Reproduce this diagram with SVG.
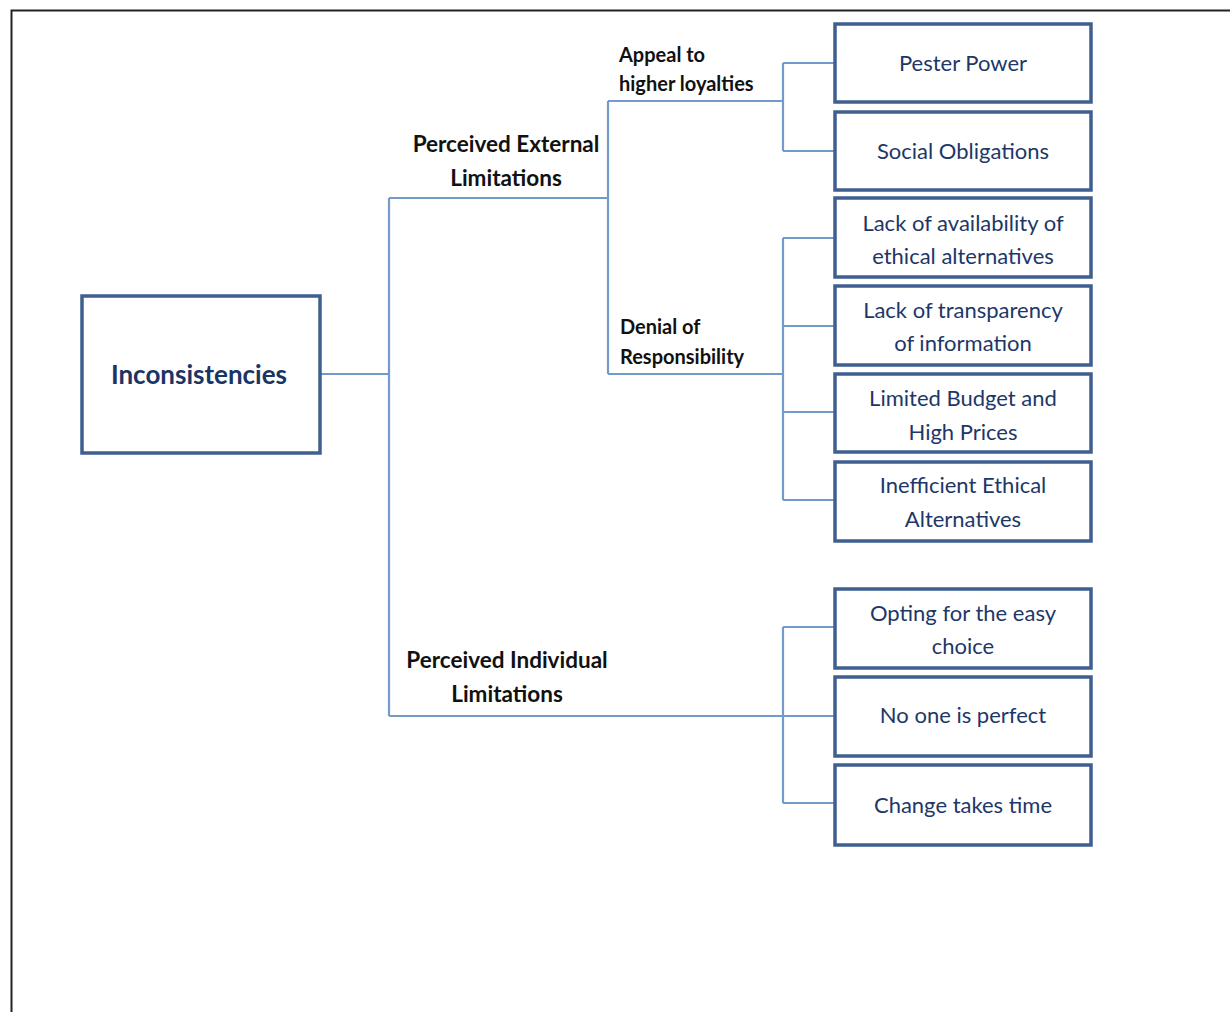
<svg xmlns="http://www.w3.org/2000/svg" width="1230" height="1012" viewBox="0 0 1230 1012">
  <style>
    .box { fill: #ffffff; stroke: #3e5f8f; stroke-width: 3.5; }
    .wire { fill: none; stroke: #729acb; stroke-width: 2.2; }
    .bt { font-family: Lato, "Liberation Sans", sans-serif; font-size: 22px; fill: #1d3768; text-anchor: middle; }
    .lbl { font-family: Lato, "Liberation Sans", sans-serif; font-size: 20px; font-weight: bold; fill: #111111; }
    .lbl-main { font-family: Lato, "Liberation Sans", sans-serif; font-size: 22.5px; font-weight: bold; fill: #111111; text-anchor: middle; }
    .root { font-family: Lato, "Liberation Sans", sans-serif; font-size: 26px; font-weight: bold; fill: #1a3466; text-anchor: middle; }
  </style>
  <rect width="1230" height="1012" fill="#ffffff"/>
  <!-- page frame, open to the right and bottom -->
  <path d="M11.5 1012 V10.5 H1230" fill="none" stroke="#222222" stroke-width="2"/>

  <!-- connectors -->
  <g id="connectors">
    <path class="wire" d="M320 374 H389 M389 198 V716 M389 198 H608 M389 716 H835"/>
    <path class="wire" d="M608 101 V374 M608 101 H783 M608 374 H783"/>
    <path class="wire" d="M783 63 V151 M783 63 H835 M783 151 H835"/>
    <path class="wire" d="M783 238 V500 M783 238 H835 M783 326 H835 M783 412 H835 M783 500 H835"/>
    <path class="wire" d="M783 627 V803 M783 627 H835 M783 803 H835"/>
  </g>

  <!-- branch labels -->
  <g id="label-external">
    <text class="lbl-main" x="506" y="152">Perceived External</text>
    <text class="lbl-main" x="506" y="186">Limitations</text>
  </g>
  <g id="label-appeal">
    <text class="lbl" x="619" y="62">Appeal to</text>
    <text class="lbl" x="619" y="91">higher loyalties</text>
  </g>
  <g id="label-denial">
    <text class="lbl" x="620" y="334">Denial of</text>
    <text class="lbl" x="620" y="364">Responsibility</text>
  </g>
  <g id="label-individual">
    <text class="lbl-main" x="507" y="668">Perceived Individual</text>
    <text class="lbl-main" x="507" y="702">Limitations</text>
  </g>

  <!-- root -->
  <g id="inconsistencies">
    <rect class="box" x="82" y="296" width="238" height="157"/>
    <text class="root" x="199" y="384">Inconsistencies</text>
  </g>

  <!-- leaves -->
  <g id="pester-power">
    <rect class="box" x="835" y="24" width="256" height="78"/>
    <text class="bt" x="963" y="71">Pester Power</text>
  </g>
  <g id="social-obligations">
    <rect class="box" x="835" y="112" width="256" height="78"/>
    <text class="bt" x="963" y="159">Social Obligations</text>
  </g>
  <g id="lack-availability">
    <rect class="box" x="835" y="198" width="256" height="79"/>
    <text class="bt" x="963" y="231">Lack of availability of</text>
    <text class="bt" x="963" y="264">ethical alternatives</text>
  </g>
  <g id="lack-transparency">
    <rect class="box" x="835" y="286" width="256" height="79"/>
    <text class="bt" x="963" y="318">Lack of transparency</text>
    <text class="bt" x="963" y="351">of information</text>
  </g>
  <g id="limited-budget">
    <rect class="box" x="835" y="374" width="256" height="78"/>
    <text class="bt" x="963" y="406">Limited Budget  and</text>
    <text class="bt" x="963" y="440">High Prices</text>
  </g>
  <g id="inefficient-alternatives">
    <rect class="box" x="835" y="462" width="256" height="79"/>
    <text class="bt" x="963" y="493">Inefficient Ethical</text>
    <text class="bt" x="963" y="527">Alternatives</text>
  </g>
  <g id="easy-choice">
    <rect class="box" x="835" y="589" width="256" height="79"/>
    <text class="bt" x="963" y="621">Opting for the easy</text>
    <text class="bt" x="963" y="654">choice</text>
  </g>
  <g id="no-one-perfect">
    <rect class="box" x="835" y="677" width="256" height="79"/>
    <text class="bt" x="963" y="723">No one is perfect</text>
  </g>
  <g id="change-takes-time">
    <rect class="box" x="835" y="765" width="256" height="80"/>
    <text class="bt" x="963" y="813">Change takes time</text>
  </g>
</svg>
